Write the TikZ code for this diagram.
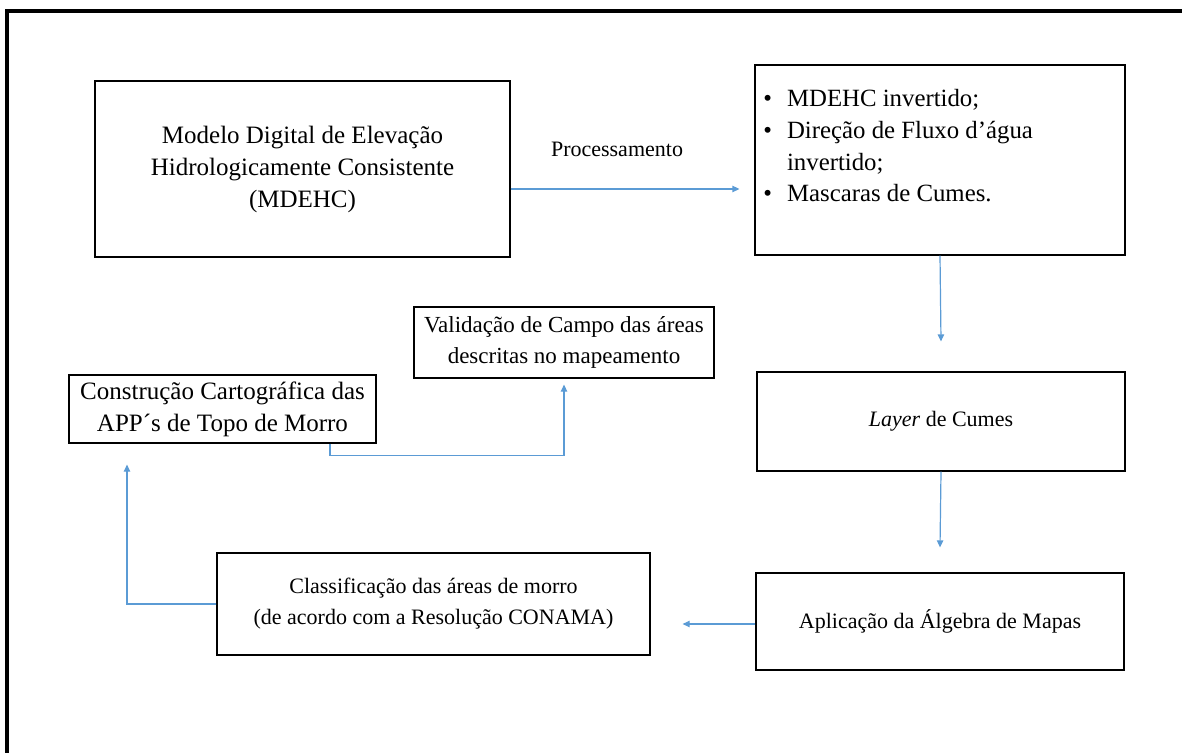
\documentclass[tikz,border=0pt]{standalone}
\usepackage{fontspec}
\setmainfont{Liberation Serif}
\usetikzlibrary{arrows.meta}
\definecolor{arrblue}{RGB}{91,155,213}
\tikzset{
  box/.style={draw=black, line width=0.6pt, rectangle, align=center, inner sep=0pt},
  bigtxt/.style={font=\fontsize{12.5}{16}\selectfont},
  smalltxt/.style={font=\fontsize{11}{15.5}\selectfont},
  arr/.style={draw=arrblue, line width=0.6pt, -{Triangle[length=3.5pt,width=3.2pt]}},
}
\begin{document}
\begin{tikzpicture}[x=0.5pt,y=-0.5pt]
\useasboundingbox (0,0) rectangle (1182,753);
% outer frame (left and top edges visible)
\draw[line width=1.6pt] (7,770) -- (7,11) -- (1200,11);

\node[box,bigtxt,minimum width=207.5pt,minimum height=88pt] (A) at (302.5,169)
  {Modelo Digital de Elevação\\Hidrologicamente Consistente\\(MDEHC)};
\node[box,minimum width=185pt,minimum height=95pt] (B) at (940,160) {};
\node[anchor=west,inner sep=0pt,font=\fontsize{12.4}{15.8}\selectfont] (Blist) at (763,148)
  {\begin{tabular}{@{}l@{\hspace{7.5pt}}l@{}}
   \textbullet & MDEHC invertido;\\
   \textbullet & Direção de Fluxo d’água\\
               & invertido;\\
   \textbullet & Mascaras de Cumes.
   \end{tabular}};
\node[box,smalltxt,minimum width=184pt,minimum height=49.5pt] (C) at (941,421.5)
  {\textit{Layer} de Cumes};
\node[box,smalltxt,minimum width=184pt,minimum height=48.5pt] (D) at (940,621.5)
  {Aplicação da Álgebra de Mapas};
\node[box,smalltxt,minimum width=216.5pt,minimum height=51pt] (E) at (433.5,604)
  {Classificação das áreas de morro\\(de acordo com a Resolução CONAMA)};
\node[box,bigtxt,minimum width=153.5pt,minimum height=34pt] (F) at (222.5,409)
  {Construção Cartográfica das\\APP´s de Topo de Morro};
\node[box,font=\fontsize{11.5}{15.5}\selectfont,minimum width=150pt,minimum height=35.5pt] (G) at (564,342.5)
  {Validação de Campo das áreas\\descritas no mapeamento};

\node[font=\fontsize{11}{13}\selectfont] (lbl) at (617,149) {Processamento};

\coordinate (a1) at ([yshift=-10pt]A.east);
\draw[arr] (a1) -- ([xshift=-7.5pt]B.west |- a1);
\draw[arr] (B.south) -- ([yshift=15pt]C.north);
\draw[arr] (C.south) -- ([yshift=12.5pt]D.north);
\coordinate (d1) at ([yshift=-1.25pt]D.west);
\draw[arr] (d1) -- ([xshift=16pt]E.east |- d1);
\draw[arr] (E.west) -| ([xshift=-47.75pt,yshift=-10.5pt]F.south);
\draw[arr] ([xshift=53.75pt]F.south) -- ++(0,12) -| ([yshift=-3pt]G.south);
\end{tikzpicture}
\end{document}
